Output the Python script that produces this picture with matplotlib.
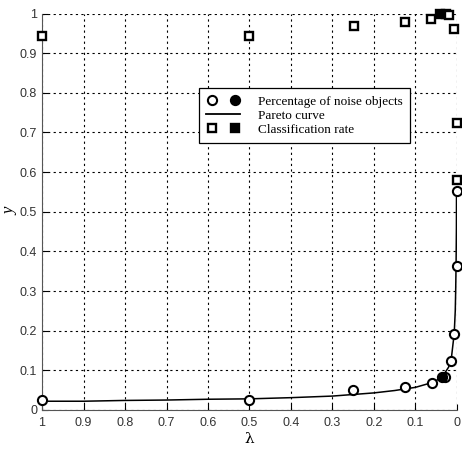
import matplotlib
matplotlib.use("Agg")
import matplotlib.pyplot as plt
from matplotlib.legend_handler import HandlerTuple
from matplotlib.lines import Line2D

# noise objects (open circles) and the chosen one (filled)
noise_x = [1, 0.5, 0.25, 0.125, 0.06, 0.029, 0.0145, 0.0065, 0.001, 0.001]
noise_y = [0.025, 0.025, 0.050, 0.057, 0.069, 0.082, 0.124, 0.191, 0.364, 0.553]
noise_sel_x = [0.037]
noise_sel_y = [0.082]

# classification rate (open squares) and the chosen one (filled)
rate_x = [1, 0.5, 0.248, 0.125, 0.062, 0.027, 0.0185, 0.008, 0.001, 0.001]
rate_y = [0.944, 0.944, 0.968, 0.978, 0.987, 1.0, 0.995, 0.962, 0.723, 0.580]
rate_sel_x = [0.041]
rate_sel_y = [1.0]

# pareto curve
pareto_x = [1, 0.9, 0.8, 0.7, 0.6, 0.5, 0.4, 0.3, 0.2, 0.15, 0.1, 0.07,
            0.05, 0.04, 0.03, 0.02, 0.013, 0.0065, 0.004, 0.003, 0.002, 0.0012, 0.001]
pareto_y = [0.022, 0.022, 0.024, 0.025, 0.027, 0.028, 0.031, 0.035, 0.043, 0.049,
            0.057, 0.066, 0.074, 0.081, 0.092, 0.108, 0.134, 0.193, 0.25, 0.30,
            0.37, 0.46, 0.55]

CIRC = dict(marker="o", ls="", ms=6.6, mec="black", mew=1.5)
SQR = dict(marker="s", ls="", ms=5.6, mec="black", mew=1.7)

fig = plt.figure(figsize=(4.62, 4.5), dpi=100)
ax = fig.add_axes([0.091, 0.089, 0.898, 0.881])

ax.plot(pareto_x, pareto_y, color="black", lw=1.1, zorder=2)
ax.plot(noise_x, noise_y, mfc="white", zorder=3, clip_on=False, **CIRC)
ax.plot(noise_sel_x, noise_sel_y, mfc="black", zorder=3, clip_on=False, **CIRC)
ax.plot(rate_x, rate_y, mfc="white", zorder=3, clip_on=False, **SQR)
ax.plot(rate_sel_x, rate_sel_y, mfc="black", zorder=3, clip_on=False, **SQR)

ax.set_xlim(1, 0)
ax.set_ylim(0, 1)
ax.set_xticks([i / 10 for i in range(11)])
ax.set_yticks([i / 10 for i in range(11)])
ax.set_xticklabels(["0", "0.1", "0.2", "0.3", "0.4", "0.5", "0.6", "0.7", "0.8", "0.9", "1"])
ax.set_yticklabels(["0", "0.1", "0.2", "0.3", "0.4", "0.5", "0.6", "0.7", "0.8", "0.9", "1"])
ax.tick_params(direction="in", length=4, labelsize=9, labelcolor="#333333",
               width=0.8)
ax.tick_params(axis="x", pad=5)
for lab in ax.get_xticklabels() + ax.get_yticklabels():
    lab.set_family("Liberation Sans")
ax.grid(True, color="black", ls=(0, (2, 3)), lw=0.8)
ax.spines["top"].set_visible(False)
ax.spines["right"].set_visible(False)
ax.spines["left"].set_color("#555555")
ax.spines["bottom"].set_color("#555555")

ax.set_xlabel("λ", fontsize=11, family="DejaVu Serif", labelpad=2)
ax.set_ylabel("y", fontsize=12, family="Liberation Serif", style="italic", labelpad=1)

h_noise = (Line2D([], [], mfc="white", **CIRC), Line2D([], [], mfc="black", **CIRC))
h_line = Line2D([], [], color="black", lw=1.3)
h_rate = (Line2D([], [], mfc="white", **SQR), Line2D([], [], mfc="black", **SQR))
leg = ax.legend([h_noise, h_line, h_rate],
                ["Percentage of noise objects", "Pareto curve", "Classification rate"],
                handler_map={tuple: HandlerTuple(ndivide=None, pad=0.9)},
                loc="upper left", bbox_to_anchor=(0.378, 0.812),
                fancybox=False, framealpha=1, edgecolor="black",
                prop={"family": "Liberation Serif", "size": 9.5},
                handlelength=2.6, borderpad=0.55, labelspacing=0.15,
                handletextpad=1.3, borderaxespad=0)
leg.get_frame().set_linewidth(0.9)

fig.savefig("out.png", dpi=100)
